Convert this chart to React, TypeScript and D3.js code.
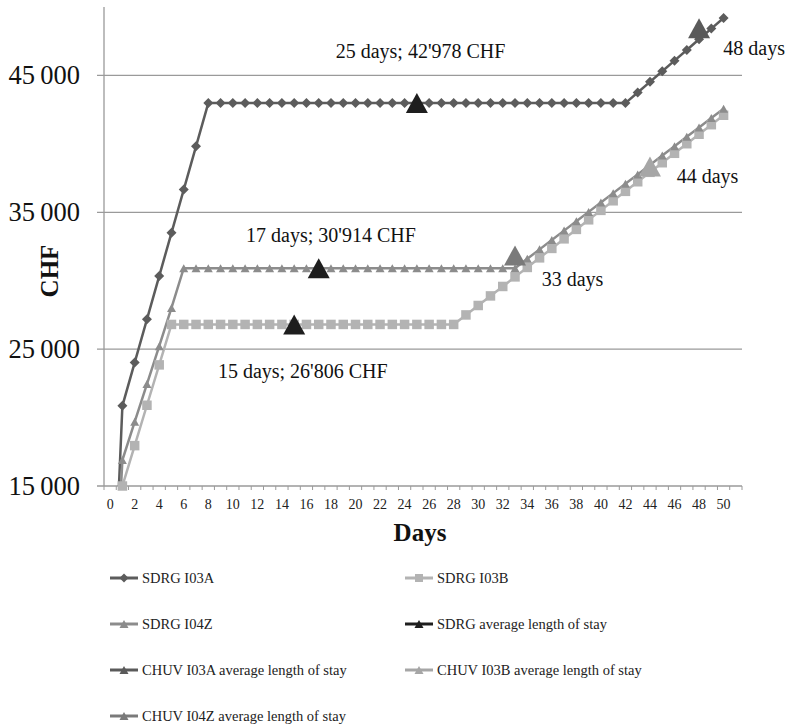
import React from "react";
import * as d3 from "d3";

const days: number[] = Array.from({ length: 51 }, (_, i) => i);
const categories: number[] = Array.from({ length: 52 }, (_, i) => i);

const sdrgI03A: number[] = [
  0, 20860, 24020, 27180, 30340, 33500, 36660, 39820,
  42978, 42978, 42978, 42978, 42978, 42978, 42978, 42978, 42978, 42978,
  42978, 42978, 42978, 42978, 42978, 42978, 42978, 42978, 42978, 42978,
  42978, 42978, 42978, 42978, 42978, 42978, 42978, 42978, 42978, 42978,
  42978, 42978, 42978, 42978, 42978,
  43750, 44530, 45300, 46080, 46860, 47640, 48420, 49200,
];

const sdrgI03B: number[] = [
  0, 15000, 17950, 20900, 23850,
  26806, 26806, 26806, 26806, 26806, 26806, 26806, 26806, 26806, 26806,
  26806, 26806, 26806, 26806, 26806, 26806, 26806, 26806, 26806, 26806,
  26806, 26806, 26806, 26806,
  27500, 28190, 28890, 29580, 30280, 30970, 31670, 32360, 33060, 33750,
  34450, 35140, 35840, 36530, 37230, 37920, 38620, 39310, 40010, 40700,
  41400, 42090,
];

const sdrgI04Z: number[] = [
  0, 16900, 19690, 22450, 25220, 28010,
  30914, 30914, 30914, 30914, 30914, 30914, 30914, 30914, 30914, 30914,
  30914, 30914, 30914, 30914, 30914, 30914, 30914, 30914, 30914, 30914,
  30914, 30914, 30914, 30914, 30914, 30914, 30914, 30914,
  31600, 32290, 32970, 33660, 34340, 35030, 35720, 36400, 37090, 37770,
  38460, 39150, 39830, 40520, 41200, 41890, 42570,
];

const sdrgAvgDays: number[] = [15, 17, 25];
const sdrgAvgValues: number[] = [26806, 30914, 42978];
const chuvI03ADay = 48;
const chuvI03AValue = 48450;
const chuvI03BDay = 44;
const chuvI03BValue = 38350;
const chuvI04ZDay = 33;
const chuvI04ZValue = 31850;

const yTicks: number[] = [15000, 25000, 35000, 45000];
const xTickLabels: number[] = Array.from({ length: 26 }, (_, i) => i * 2);

const annotationTexts: string[] = [
  "25 days; 42'978 CHF",
  "17 days; 30'914 CHF",
  "15 days; 26'806 CHF",
  "33 days",
  "44 days",
  "48 days",
];
const annotationDays: number[] = [25.3, 18.0, 15.7, 35.17, 46.18, 49.98];
const annotationValues: number[] = [46270, 32830, 22890, 29640, 37120, 46490];
const annotationAnchors: string[] = ["middle", "middle", "middle", "start", "start", "start"];

const legendItems = [
  { label: "SDRG I03A", color: "#5c5c5c", marker: "diamond" },
  { label: "SDRG I03B", color: "#b3b3b3", marker: "square" },
  { label: "SDRG I04Z", color: "#8c8c8c", marker: "triangle" },
  { label: "SDRG average length of stay", color: "#1e1e1e", marker: "triangle" },
  { label: "CHUV I03A average length of stay", color: "#5a5a5a", marker: "triangle" },
  { label: "CHUV I03B average length of stay", color: "#a6a6a6", marker: "triangle" },
  { label: "CHUV I04Z average length of stay", color: "#7a7a7a", marker: "triangle" },
];

const FONT = "'Liberation Serif', 'Times New Roman', serif";

const tri = (w: number, h: number) => `M0,${-h / 2}L${w / 2},${h / 2}L${-w / 2},${h / 2}Z`;
const diamond = (r: number) => `M0,${-r}L${r},0L0,${r}L${-r},0Z`;
const square = (s: number) => `M${-s / 2},${-s / 2}h${s}v${s}h${-s}Z`;

export default function App() {
  const left = 104, right = 742, top = 7, bottom = 486;
  const x = d3.scaleBand<number>().domain(categories).range([left, right]).padding(0);
  const bw = x.bandwidth();
  const cx = (d: number) => (x(Math.floor(d)) as number) + bw / 2 + (d - Math.floor(d)) * bw;
  const y = d3.scaleLinear().domain([15000, 50000]).range([bottom, top]);

  const line = d3
    .line<number>()
    .x((_, i) => cx(days[i]))
    .y((v) => y(v));

  const series = [
    { values: sdrgI03A, color: "#5c5c5c", marker: diamond(5) },
    { values: sdrgI03B, color: "#b3b3b3", marker: square(9.5) },
    { values: sdrgI04Z, color: "#8c8c8c", marker: tri(9, 8) },
  ];

  const bigTri = tri(22, 20);
  const bigMarkers = [
    ...sdrgAvgDays.map((d, i) => ({ day: d, value: sdrgAvgValues[i], color: "#1e1e1e" })),
    { day: chuvI03ADay, value: chuvI03AValue, color: "#5a5a5a" },
    { day: chuvI03BDay, value: chuvI03BValue, color: "#a6a6a6" },
    { day: chuvI04ZDay, value: chuvI04ZValue, color: "#7a7a7a" },
  ];

  const legendRows = [578, 624, 670, 716];
  const legendCols = [110, 405];

  return (
    <svg
      width={793}
      height={728}
      style={{ position: "absolute", left: 0, top: 0, background: "#fff" }}
      fontFamily={FONT}
    >
      <defs>
        <clipPath id="plot">
          <rect x={left} y={top} width={right - left} height={bottom - top} />
        </clipPath>
      </defs>
      {yTicks.map((t) => (
        <line key={t} x1={left - 7} x2={right} y1={y(t)} y2={y(t)} stroke="#9a9a9a" strokeWidth={1.3} />
      ))}
      <line x1={left} x2={left} y1={top} y2={bottom} stroke="#9a9a9a" strokeWidth={1.3} />
      {d3.range(0, 53).map((i) => {
        const xx = left + i * bw;
        return <line key={i} x1={xx} x2={xx} y1={bottom} y2={bottom + 4} stroke="#9a9a9a" strokeWidth={1} />;
      })}
      {xTickLabels.map((t) => (
        <text key={t} x={cx(t)} y={509} textAnchor="middle" fontSize={14} fill="#222">
          {t}
        </text>
      ))}
      {yTicks.map((t) => (
        <text key={t} x={80} y={y(t) + 9} textAnchor="end" fontSize={26.5} fill="#111">
          {d3.format(",")(t).replace(",", "\u2009")}
        </text>
      ))}
      <text
        transform={`translate(58,271) rotate(-90)`}
        textAnchor="middle"
        fontSize={25}
        fontWeight="bold"
        fill="#111"
      >
        CHF
      </text>
      <text x={420} y={541} textAnchor="middle" fontSize={25} fontWeight="bold" fill="#111">
        Days
      </text>

      <g clipPath="url(#plot)">
        {series.map((s, k) => (
          <path key={k} d={line(s.values) || ""} fill="none" stroke={s.color} strokeWidth={2.5} />
        ))}
      </g>
      {series.map((s, k) => (
        <g key={k} fill={s.color}>
          {s.values.map((v, i) =>
            v >= 15000 ? (
              <path key={i} d={s.marker} transform={`translate(${cx(days[i])},${y(v)})`} />
            ) : null
          )}
        </g>
      ))}
      {bigMarkers.map((m, i) => (
        <path key={i} d={bigTri} fill={m.color} transform={`translate(${cx(m.day)},${y(m.value)})`} />
      ))}

      {annotationTexts.map((t, i) => (
        <text
          key={i}
          x={cx(annotationDays[i])}
          y={y(annotationValues[i])}
          textAnchor={annotationAnchors[i] as any}
          fontSize={20}
          fill="#111"
        >
          {t}
        </text>
      ))}

      {legendItems.map((it, i) => {
        const col = i % 2;
        const row = Math.floor(i / 2);
        const lx = legendCols[col];
        const ly = legendRows[row];
        const m =
          it.marker === "diamond" ? diamond(4.5) : it.marker === "square" ? square(8) : tri(9, 8);
        return (
          <g key={i}>
            <line x1={lx} x2={lx + 28} y1={ly} y2={ly} stroke={it.color} strokeWidth={3} />
            <path d={m} fill={it.color} transform={`translate(${lx + 14},${ly})`} />
            <text x={lx + 32} y={ly + 5} fontSize={14.5} fill="#222">
              {it.label}
            </text>
          </g>
        );
      })}
    </svg>
  );
}
